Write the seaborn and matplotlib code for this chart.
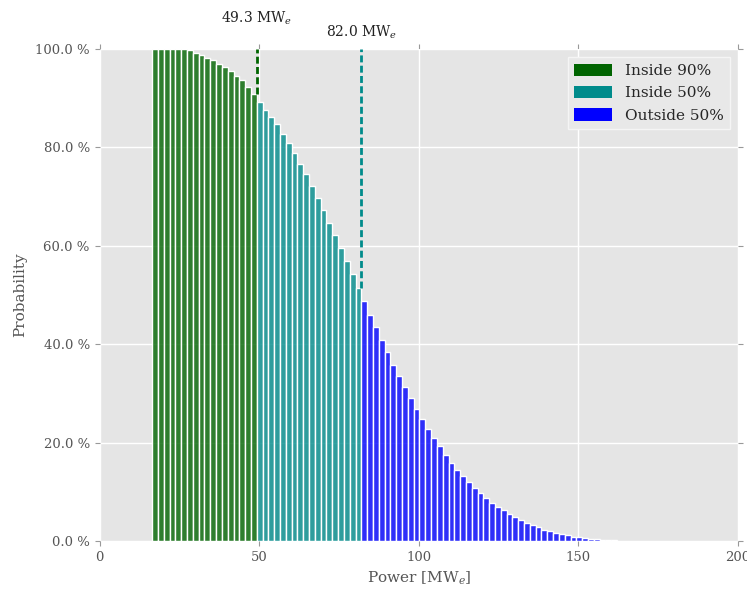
import numpy as np
import pandas as pd
import matplotlib
matplotlib.use("Agg")
import matplotlib.pyplot as plt
from matplotlib.patches import Patch
from matplotlib.ticker import FuncFormatter, MultipleLocator
import seaborn as sns

# Exceedance probability (%) of the delivered power, one value per power bin
power_start = 16.5     # MW_e, left edge of the first bin
bin_width = 1.82       # MW_e
prob_inside90 = [100.0, 100.0, 100.0, 100.0, 100.0, 100.0, 99.7, 99.2, 98.7,
                 98.2, 97.7, 97.0, 96.3, 95.5, 94.6, 93.6, 92.3, 90.8]
prob_inside50 = [89.3, 87.7, 86.2, 84.7, 82.7, 80.8, 78.8, 76.7, 74.5,
                 72.1, 69.8, 67.2, 64.7, 62.2, 59.5, 57.0, 54.2, 51.5]
prob_outside50 = [48.7, 46.0, 43.4, 40.9, 38.4, 35.8, 33.5, 31.2, 29.0, 26.9,
                  24.7, 22.8, 21.0, 19.3, 17.5, 15.9, 14.5, 13.2, 11.9, 10.7,
                  9.8, 8.7, 7.8, 6.9, 6.2, 5.4, 4.8, 4.2, 3.7, 3.3,
                  2.85, 2.3, 2.1, 1.7, 1.5, 1.3, 0.9, 0.75, 0.68, 0.47,
                  0.4, 0.27, 0.2, 0.15]
p90_power = 49.3       # MW_e
p50_power = 82.0       # MW_e
legend_labels = ["Inside 90%", "Inside 50%", "Outside 50%"]
colors = ["darkgreen", "darkcyan", "blue"]

sns.set_style("darkgrid", {
    "axes.facecolor": "#E5E5E5",
    "grid.color": "white",
    "axes.edgecolor": "#E5E5E5",
})
plt.rcParams["font.family"] = ["DejaVu Serif", "DejaVu Sans"]
plt.rcParams["mathtext.fontset"] = "dejavuserif"

fig = plt.figure(figsize=(7.47, 5.90), dpi=100)
ax = fig.add_axes([99.5 / 747, 1 - 541 / 590, 638.5 / 747, (541 - 49) / 590])

groups = [prob_inside90, prob_inside50, prob_outside50]
offset = 0
for probs, color in zip(groups, colors):
    n = len(probs)
    edges = (power_start + bin_width * np.arange(offset, offset + n + 1)).tolist()
    df = pd.DataFrame({
        "power": [0.5 * (a + b) for a, b in zip(edges[:-1], edges[1:])],
        "prob": probs,
    })
    sns.histplot(data=df, x="power", weights="prob", bins=edges, color=color,
                 alpha=0.8, edgecolor="white", linewidth=1.0, ax=ax, zorder=2)
    offset += n

# dashed markers at the 90 % and 50 % power levels, above the bars
for xv, top_prob, color, label_y in [
        (p90_power, prob_inside90[-1], "darkgreen", 106.3),
        (p50_power, prob_inside50[-1], "darkcyan", 103.3)]:
    ax.vlines(xv, top_prob, 100, colors=color, linestyles=(0, (2.5, 1.2)),
              linewidth=2, zorder=3)
    ax.text(xv, label_y, f"{xv:.1f} MW$_e$", ha="center", va="center",
            fontsize=10, color="#222222", clip_on=False)

ax.set_xlim(0, 200)
ax.set_ylim(0, 100)
ax.xaxis.set_major_locator(MultipleLocator(50))
ax.yaxis.set_major_locator(MultipleLocator(20))
ax.yaxis.set_major_formatter(FuncFormatter(lambda v, _: f"{v:.1f} %"))
ax.tick_params(axis="both", which="major", direction="out", length=3.5,
               width=0.8, color="#999999", labelcolor="#555555", labelsize=9.5,
               bottom=True, left=True, top=True, right=True,
               labeltop=False, labelright=False)
ax.grid(True, color="white", linewidth=1, zorder=0)
ax.set_axisbelow(True)
for spine in ax.spines.values():
    spine.set_visible(False)

ax.set_xlabel("Power [MW$_e$]", fontsize=11, color="#555555", labelpad=4)
ax.set_ylabel("Probability", fontsize=11, color="#555555", labelpad=6)

handles = [Patch(facecolor=c, edgecolor="none") for c in colors]
leg = ax.legend(handles, legend_labels, loc="upper right", fontsize=11,
                handlelength=2.5, handleheight=0.9, frameon=True,
                facecolor="#E8E8E8", edgecolor="#F5F5F5", framealpha=1,
                borderaxespad=0.55, fancybox=False)

fig.savefig("out.png", dpi=100)
